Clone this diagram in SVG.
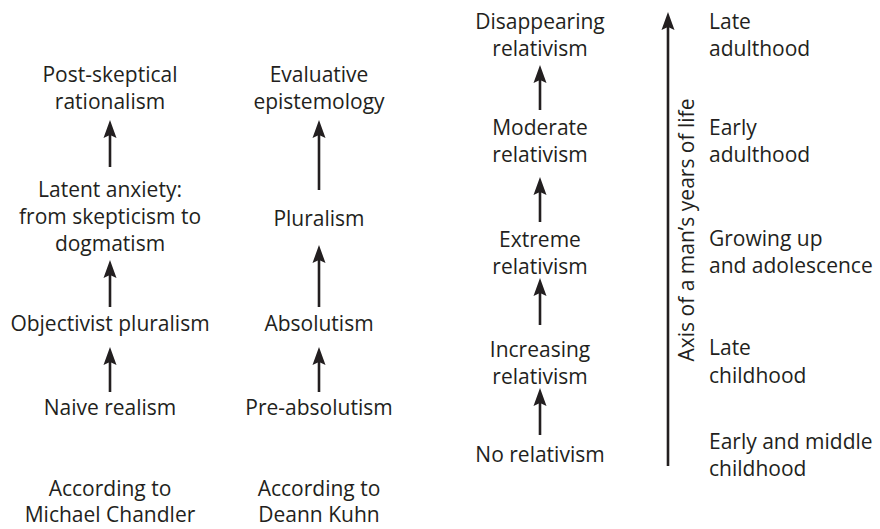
<svg xmlns="http://www.w3.org/2000/svg" width="880" height="529" viewBox="0 0 880 529">
<style>
text{font-family:"Open Sans","Noto Sans","Liberation Sans",sans-serif;font-size:21px;fill:#231f20;}
.c{text-anchor:middle;}
.s{text-anchor:start;}
.ar{stroke:#231f20;stroke-width:2.6;fill:none;marker-end:url(#ah);}
</style>
<defs>
<marker id="ah" viewBox="-20 -8 21 16" refX="-10" refY="0" markerWidth="21" markerHeight="16" orient="auto" markerUnits="userSpaceOnUse">
<path d="M0,0 L-18,-6.5 L-15,0 L-18,6.5 Z" fill="#231f20"/>
</marker>
</defs>
<rect width="880" height="529" fill="#fff"/>
<g id="connectors">
<line class="ar" x1="110" y1="167" x2="110" y2="130"/>
<line class="ar" x1="110" y1="307" x2="110" y2="270"/>
<line class="ar" x1="110" y1="392" x2="110" y2="357"/>
<line class="ar" x1="319" y1="190" x2="319" y2="130"/>
<line class="ar" x1="319" y1="307" x2="319" y2="255"/>
<line class="ar" x1="319" y1="392" x2="319" y2="357"/>
<line class="ar" x1="540" y1="110" x2="540" y2="75"/>
<line class="ar" x1="540" y1="222" x2="540" y2="187"/>
<line class="ar" x1="540" y1="325" x2="540" y2="288"/>
<line class="ar" x1="540" y1="435" x2="540" y2="398"/>
<line class="ar" x1="668" y1="466" x2="668" y2="22"/>
</g>
<g id="chandler">
<g id="c1"><text class="c" x="110" y="82">Post-skeptical</text><text class="c" x="110" y="109">rationalism</text></g>
<g id="c2"><text class="c" x="110" y="197">Latent anxiety:</text><text class="c" x="110" y="224">from skepticism to</text><text class="c" x="110" y="251">dogmatism</text></g>
<g id="c3"><text class="c" x="110" y="331">Objectivist pluralism</text></g>
<g id="c4"><text class="c" x="110" y="415">Naive realism</text></g>
<g id="c5"><text class="c" x="110" y="496">According to</text><text class="c" x="110" y="522">Michael Chandler</text></g>
</g>
<g id="kuhn">
<g id="k1"><text class="c" x="319" y="82">Evaluative</text><text class="c" x="319" y="109">epistemology</text></g>
<g id="k2"><text class="c" x="319" y="226">Pluralism</text></g>
<g id="k3"><text class="c" x="319" y="331">Absolutism</text></g>
<g id="k4"><text class="c" x="319" y="415">Pre-absolutism</text></g>
<g id="k5"><text class="c" x="319" y="496">According to</text><text class="c" x="319" y="522">Deann Kuhn</text></g>
</g>
<g id="relativism">
<g id="r1"><text class="c" x="540" y="29">Disappearing</text><text class="c" x="540" y="56">relativism</text></g>
<g id="r2"><text class="c" x="540" y="135">Moderate</text><text class="c" x="540" y="162">relativism</text></g>
<g id="r3"><text class="c" x="540" y="247">Extreme</text><text class="c" x="540" y="274">relativism</text></g>
<g id="r4"><text class="c" x="540" y="357">Increasing</text><text class="c" x="540" y="384">relativism</text></g>
<g id="r5"><text class="c" x="540" y="462">No relativism</text></g>
</g>
<g id="axis">
<text class="c" transform="translate(694,230) rotate(-90)">Axis of a man’s years of life</text>
<g id="a1"><text class="s" x="709" y="29">Late</text><text class="s" x="709" y="56">adulthood</text></g>
<g id="a2"><text class="s" x="709" y="135">Early</text><text class="s" x="709" y="162">adulthood</text></g>
<g id="a3"><text class="s" x="709" y="246">Growing up</text><text class="s" x="709" y="273">and adolescence</text></g>
<g id="a4"><text class="s" x="709" y="355">Late</text><text class="s" x="709" y="383">childhood</text></g>
<g id="a5"><text class="s" x="709" y="449">Early and middle</text><text class="s" x="709" y="476">childhood</text></g>
</g>
</svg>
